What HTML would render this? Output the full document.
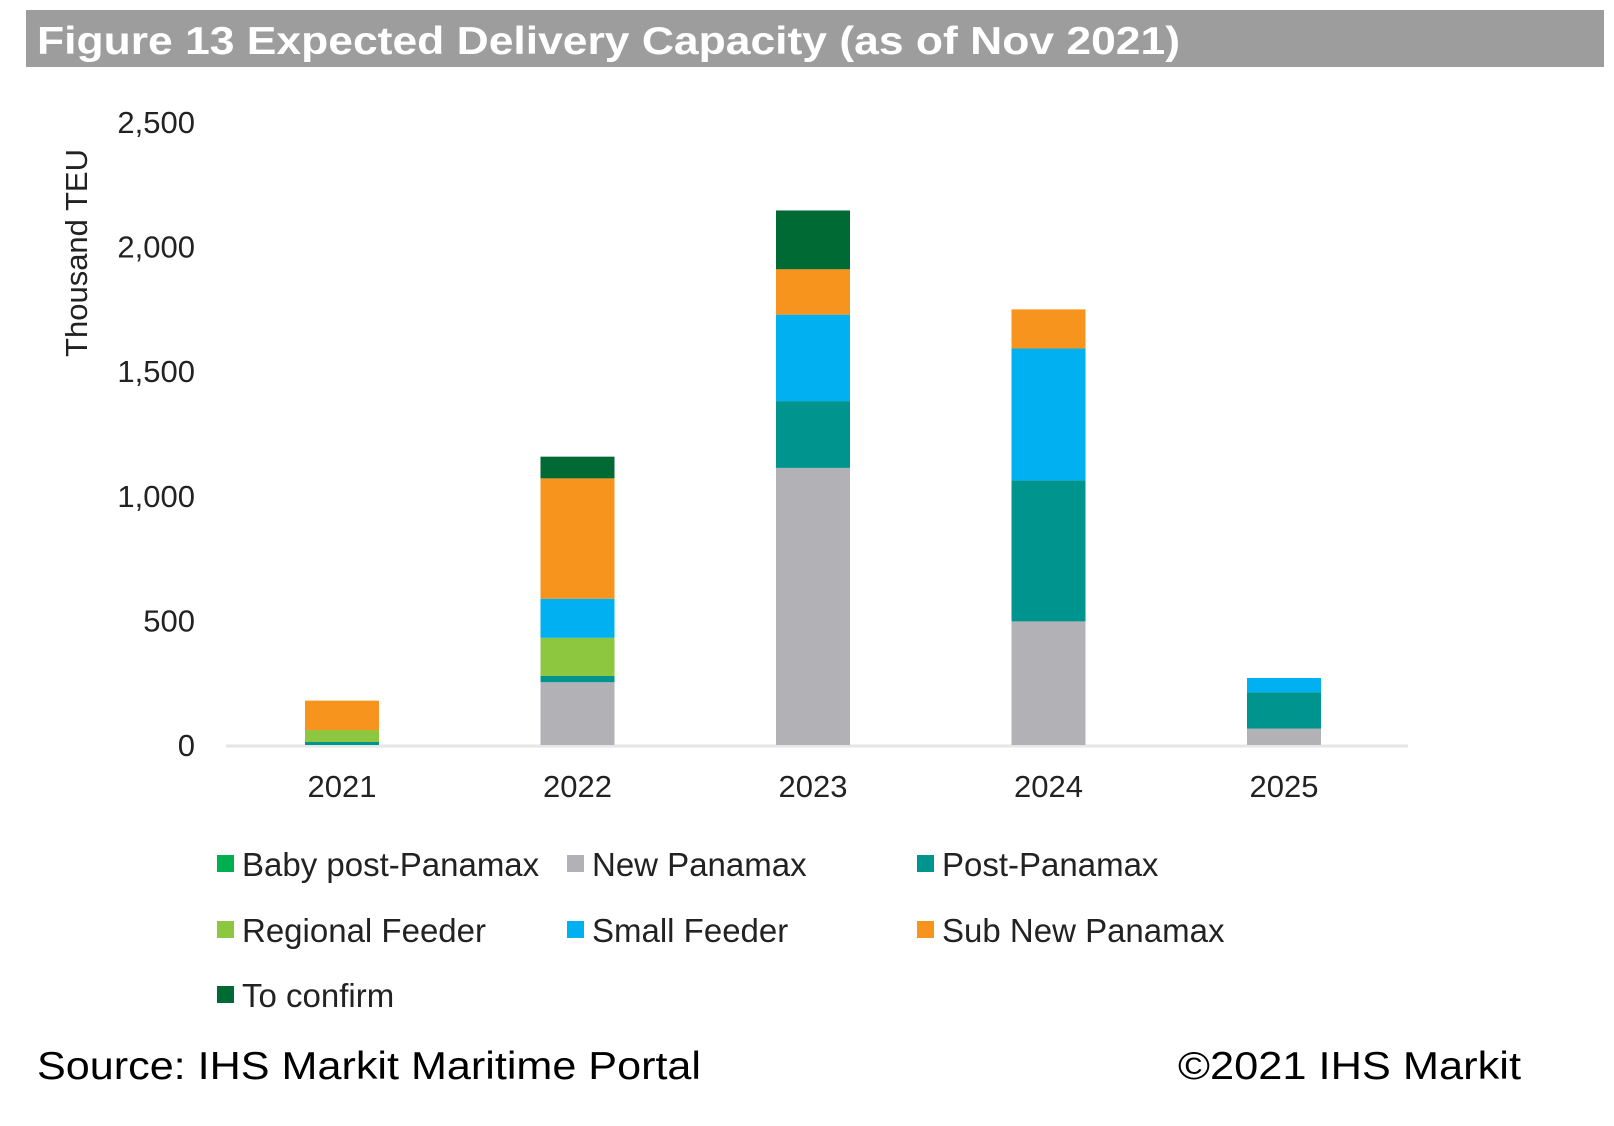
<!DOCTYPE html>
<html><head><meta charset="utf-8"><style>
html,body{margin:0;padding:0;background:#fff;}
body{width:1614px;height:1121px;position:relative;overflow:hidden;font-family:"Liberation Sans",sans-serif;}
</style></head><body>
<svg id="chart" width="1614" height="1121" xmlns="http://www.w3.org/2000/svg" font-family="Liberation Sans, sans-serif">
<rect x="26" y="10" width="1578" height="57" fill="#9d9d9d"/>
<text x="37" y="54" font-size="39" font-weight="bold" fill="#fff" textLength="1143" lengthAdjust="spacingAndGlyphs">Figure 13 Expected Delivery Capacity (as of Nov 2021)</text>
<text transform="translate(87,253) rotate(-90)" text-anchor="middle" font-size="31" fill="#222">Thousand  TEU</text>
<g id="plot"></g>
<g id="legend"></g>
<text x="37" y="1079" font-size="39" fill="#000" textLength="664" lengthAdjust="spacingAndGlyphs">Source: IHS Markit Maritime Portal</text>
<text x="1178" y="1079" font-size="39" fill="#000" textLength="343" lengthAdjust="spacingAndGlyphs">©2021 IHS Markit</text>
</svg>
<script>
const categories = ["2021","2022","2023","2024","2025"];
const seriesNames = ["Baby post-Panamax","New Panamax","Post-Panamax","Regional Feeder","Small Feeder","Sub New Panamax","To confirm"];
const seriesColors = ["#00b050","#b1b1b6","#00948f","#8dc63f","#00b0f0","#f7941d","#006a35"];
const babyPostPanamax = [0,0,0,0,0];
const newPanamax = [0,252,1112,496,66];
const postPanamax = [12,25,268,566,145];
const regionalFeeder = [48,153,0,0,0];
const smallFeeder = [0,157,347,529,58];
const subNewPanamax = [118,483,182,157,0];
const toConfirm = [0,87,236,0,0];
const yTicks = [0,500,1000,1500,2000,2500];
const yTickLabels = ["0","500","1,000","1,500","2,000","2,500"];

const NS="http://www.w3.org/2000/svg";
const y0=745, yPer=(745-122)/2500;
const xL=226, xR=1408, step=235.5, x0=342, bw=74;
function yScale(v){return y0 - v*yPer;}
function xScale(i){return x0 + i*step;}
const plot=document.getElementById('plot');
function mk(tag,attrs,parent){const e=document.createElementNS(NS,tag);for(const k in attrs)e.setAttribute(k,attrs[k]);parent.appendChild(e);return e;}

const base=mk('line',{x1:xL,x2:xR,y1:y0+1,y2:y0+1,stroke:'#e6e6e6','stroke-width':3},plot);



yTicks.forEach((t,i)=>{
  const tx=mk('text',{x:195,y:yScale(t)+11,'text-anchor':'end','font-size':31,fill:'#222'},plot);
  tx.textContent=yTickLabels[i];
  
  
});

const allSeries=[babyPostPanamax,newPanamax,postPanamax,regionalFeeder,smallFeeder,subNewPanamax,toConfirm];
categories.forEach((c,i)=>{
  let acc=0;
  allSeries.forEach((s,j)=>{
    const v=s[i]; if(!v) return;
    const r=mk('rect',{x:xScale(i)-bw/2,y:yScale(acc+v),width:bw,height:v*yPer,fill:seriesColors[j]},plot);
    
    
    acc+=v;
  });
  const tx=mk('text',{x:xScale(i),y:797,'text-anchor':'middle','font-size':31,fill:'#222'},plot);
  tx.textContent=c;
  
  
});

const leg=document.getElementById('legend');
const colX=[217,567,917], rowY=[864,930,995];
seriesNames.forEach((n,k)=>{
  const cx=colX[k%3], cy=rowY[Math.floor(k/3)];
  const g=mk('g',{},leg);
  
  
  mk('rect',{x:cx,y:cy-9,width:17,height:17,fill:seriesColors[k]},g);
  const t=mk('text',{x:cx+25,y:cy+12,'font-size':33,fill:'#222'},g);
  t.textContent=n;
});
</script>
</body></html>
